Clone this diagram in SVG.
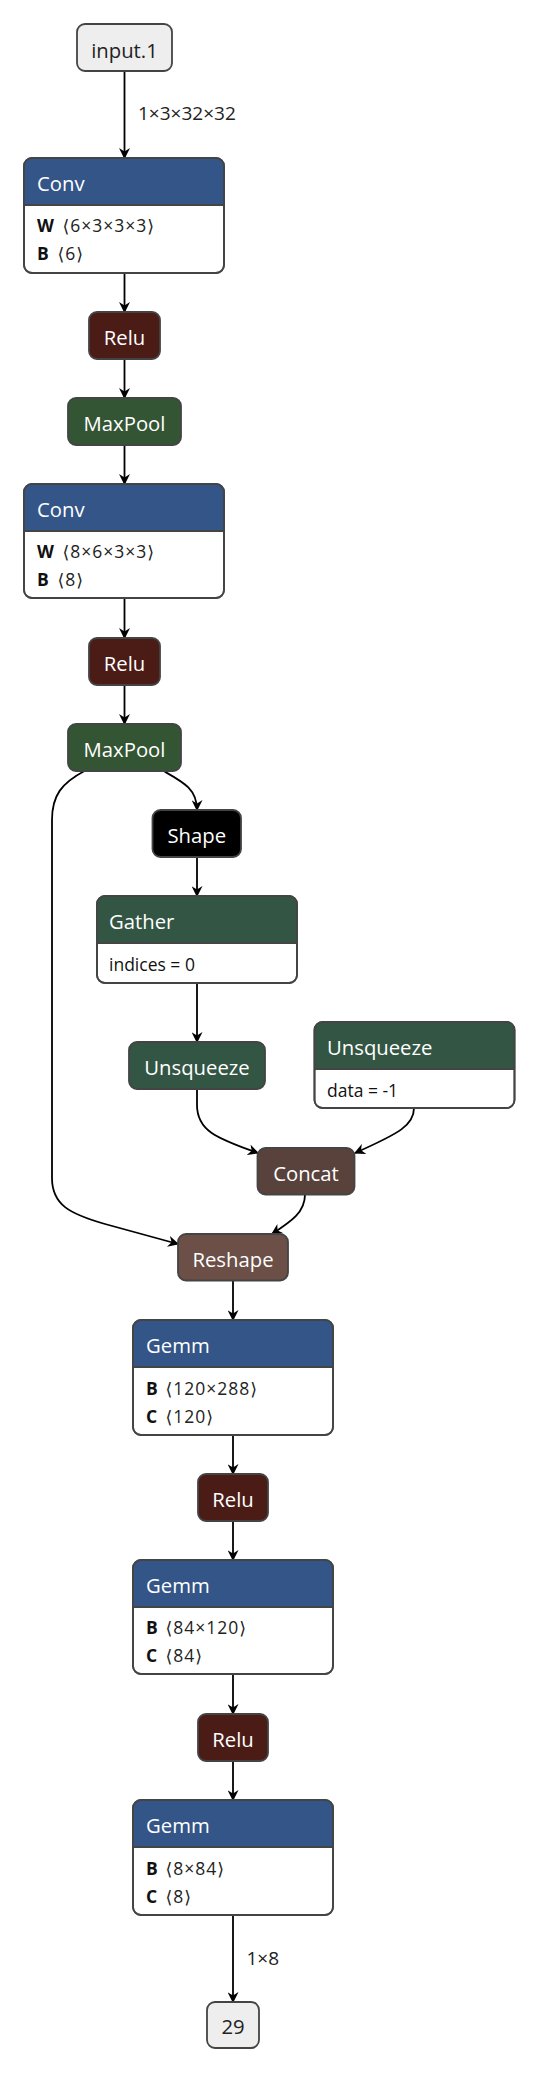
<svg xmlns="http://www.w3.org/2000/svg" width="540" height="2074" viewBox="0 0 540 2074">
<style>
  .bg { fill: #ffffff; }
  .box { fill: #ffffff; stroke: #444444; stroke-width: 1.8; }
  .outline { fill: none; stroke: #444444; stroke-width: 1.8; }
  .sep { stroke: #444444; stroke-width: 1.8; }
  .io { fill: #eeeeee; stroke: #444444; stroke-width: 1.8; }
  .layer { fill: #335588; }
  .act { fill: #4b1b16; }
  .pool { fill: #335533; }
  .transform { fill: #335544; }
  .shape { fill: #000000; }
  .tensor { fill: #59423b; }
  .reshape { fill: #6c4f47; }
  .title { font-family: "Open Sans", "Noto Sans", "DejaVu Sans", sans-serif; font-size: 20.3px; fill: #ffffff; }
  .iotext { font-family: "Open Sans", "Noto Sans", "DejaVu Sans", sans-serif; font-size: 20.3px; fill: #222222; text-anchor: middle; }
  .mid { text-anchor: middle; }
  .attr { font-family: "Open Sans", "Noto Sans", "DejaVu Sans", sans-serif; font-size: 17.5px; fill: #111111; }
  .aname { font-weight: bold; }
  .aval { fill: #222222; letter-spacing: 1px; }
  .edge { fill: none; stroke: #000000; stroke-width: 1.8; }
  .elabel { font-family: "Open Sans", "Noto Sans", "DejaVu Sans", sans-serif; font-size: 19px; fill: #222222; }
</style>
<defs>
  <marker id="arrow" viewBox="0 0 10 10" refX="9" refY="5" markerWidth="11" markerHeight="11" markerUnits="userSpaceOnUse" orient="auto">
    <path d="M0,0 L10,5 L0,10 L3,5 z" fill="#000000"/>
  </marker>
</defs>
<rect class="bg" x="0" y="0" width="540" height="2074"/>

<g id="edges">
  <path class="edge" d="M124.5,71 L124.5,158" marker-end="url(#arrow)"/>
  <path class="edge" d="M124.5,273 L124.5,312" marker-end="url(#arrow)"/>
  <path class="edge" d="M124.5,359 L124.5,398" marker-end="url(#arrow)"/>
  <path class="edge" d="M124.5,445 L124.5,484" marker-end="url(#arrow)"/>
  <path class="edge" d="M124.5,598 L124.5,638" marker-end="url(#arrow)"/>
  <path class="edge" d="M124.5,685 L124.5,724" marker-end="url(#arrow)"/>
  <path class="edge" d="M163.6,771 C183,782 197,789 197,810" marker-end="url(#arrow)"/>
  <path class="edge" d="M84.4,771 C62,783 52,795 52,820 L52,1178 C52,1205 70,1214 105,1224 L178,1244" marker-end="url(#arrow)"/>
  <path class="edge" d="M197,857 L197,896" marker-end="url(#arrow)"/>
  <path class="edge" d="M197,983 L197,1042" marker-end="url(#arrow)"/>
  <path class="edge" d="M197,1089 L197,1105 C197,1130 215,1138 258,1153" marker-end="url(#arrow)"/>
  <path class="edge" d="M414,1108 C414,1125 400,1133 355,1153" marker-end="url(#arrow)"/>
  <path class="edge" d="M305,1194.5 C305,1212 292,1221 272,1234" marker-end="url(#arrow)"/>
  <path class="edge" d="M233,1280.5 L233,1320" marker-end="url(#arrow)"/>
  <path class="edge" d="M233,1435 L233,1474" marker-end="url(#arrow)"/>
  <path class="edge" d="M233,1521 L233,1560" marker-end="url(#arrow)"/>
  <path class="edge" d="M233,1674 L233,1714" marker-end="url(#arrow)"/>
  <path class="edge" d="M233,1761 L233,1800" marker-end="url(#arrow)"/>
  <path class="edge" d="M233,1915 L233,2002" marker-end="url(#arrow)"/>
  <text class="elabel" x="138" y="120">1×3×32×32</text>
  <text class="elabel" x="246.5" y="1965">1×8</text>
</g>

<g id="input.1">
  <rect class="io" x="77" y="24" width="95" height="47" rx="8"/>
  <text class="iotext" x="124.5" y="57.5">input.1</text>
</g>

<g id="conv1">
  <rect class="box" x="24" y="158" width="200" height="115" rx="8"/>
  <path class="layer" d="M24,205 L24,166 A8,8 0 0 1 32,158 L216,158 A8,8 0 0 1 224,166 L224,205 Z"/>
  <line class="sep" x1="24" y1="205" x2="224" y2="205"/>
  <rect class="outline" x="24" y="158" width="200" height="115" rx="8"/>
  <text class="title" x="37" y="190.5">Conv</text>
  <text class="attr" y="232"><tspan class="aname" x="37">W</tspan><tspan class="aval" x="62.5">⟨6×3×3×3⟩</tspan></text>
  <text class="attr" y="260"><tspan class="aname" x="37">B</tspan><tspan class="aval" x="57.5">⟨6⟩</tspan></text>
</g>

<g id="relu1">
  <rect class="act" x="89" y="312" width="71" height="47" rx="8" stroke="#444444" stroke-width="1.8"/>
  <text class="title mid" x="124.5" y="344.5">Relu</text>
</g>

<g id="maxpool1">
  <rect class="pool" x="68" y="398" width="113" height="47" rx="8" stroke="#444444" stroke-width="1.8"/>
  <text class="title mid" x="124.5" y="430.5">MaxPool</text>
</g>

<g id="conv2">
  <rect class="box" x="24" y="484" width="200" height="114" rx="8"/>
  <path class="layer" d="M24,531 L24,492 A8,8 0 0 1 32,484 L216,484 A8,8 0 0 1 224,492 L224,531 Z"/>
  <line class="sep" x1="24" y1="531" x2="224" y2="531"/>
  <rect class="outline" x="24" y="484" width="200" height="114" rx="8"/>
  <text class="title" x="37" y="516.5">Conv</text>
  <text class="attr" y="558"><tspan class="aname" x="37">W</tspan><tspan class="aval" x="62.5">⟨8×6×3×3⟩</tspan></text>
  <text class="attr" y="586"><tspan class="aname" x="37">B</tspan><tspan class="aval" x="57.5">⟨8⟩</tspan></text>
</g>

<g id="relu2">
  <rect class="act" x="89" y="638" width="71" height="47" rx="8" stroke="#444444" stroke-width="1.8"/>
  <text class="title mid" x="124.5" y="670.5">Relu</text>
</g>

<g id="maxpool2">
  <rect class="pool" x="68" y="724" width="113" height="47" rx="8" stroke="#444444" stroke-width="1.8"/>
  <text class="title mid" x="124.5" y="756.5">MaxPool</text>
</g>

<g id="shape">
  <rect class="shape" x="152.5" y="810" width="88.5" height="47" rx="8" stroke="#444444" stroke-width="1.8"/>
  <text class="title mid" x="196.8" y="842.5">Shape</text>
</g>

<g id="gather">
  <rect class="box" x="97" y="896" width="200" height="87" rx="8"/>
  <path class="transform" d="M97,943 L97,904 A8,8 0 0 1 105,896 L289,896 A8,8 0 0 1 297,904 L297,943 Z"/>
  <line class="sep" x1="97" y1="943" x2="297" y2="943"/>
  <rect class="outline" x="97" y="896" width="200" height="87" rx="8"/>
  <text class="title" x="109" y="928.5">Gather</text>
  <text class="attr" x="109" y="970.5">indices = 0</text>
</g>

<g id="unsqueeze1">
  <rect class="transform" x="129" y="1042" width="136" height="47" rx="8" stroke="#444444" stroke-width="1.8"/>
  <text class="title mid" x="197" y="1074.5">Unsqueeze</text>
</g>

<g id="unsqueeze2">
  <rect class="box" x="314.5" y="1022" width="200" height="86" rx="8"/>
  <path class="transform" d="M314.5,1069 L314.5,1030 A8,8 0 0 1 322.5,1022 L506.5,1022 A8,8 0 0 1 514.5,1030 L514.5,1069 Z"/>
  <line class="sep" x1="314.5" y1="1069" x2="514.5" y2="1069"/>
  <rect class="outline" x="314.5" y="1022" width="200" height="86" rx="8"/>
  <text class="title" x="327" y="1054.5">Unsqueeze</text>
  <text class="attr" x="327" y="1096.5">data = -1</text>
</g>

<g id="concat">
  <rect class="tensor" x="257.5" y="1148" width="97" height="46.5" rx="8" stroke="#444444" stroke-width="1.8"/>
  <text class="title mid" x="306" y="1180.5">Concat</text>
</g>

<g id="reshape">
  <rect class="reshape" x="178" y="1234" width="110" height="46.5" rx="8" stroke="#444444" stroke-width="1.8"/>
  <text class="title mid" x="233" y="1266.5">Reshape</text>
</g>

<g id="gemm1">
  <rect class="box" x="133" y="1320" width="200" height="115" rx="8"/>
  <path class="layer" d="M133,1367 L133,1328 A8,8 0 0 1 141,1320 L325,1320 A8,8 0 0 1 333,1328 L333,1367 Z"/>
  <line class="sep" x1="133" y1="1367" x2="333" y2="1367"/>
  <rect class="outline" x="133" y="1320" width="200" height="115" rx="8"/>
  <text class="title" x="146" y="1352.5">Gemm</text>
  <text class="attr" y="1394.5"><tspan class="aname" x="146">B</tspan><tspan class="aval" x="165.5">⟨120×288⟩</tspan></text>
  <text class="attr" y="1422.5"><tspan class="aname" x="146">C</tspan><tspan class="aval" x="165.5">⟨120⟩</tspan></text>
</g>

<g id="relu3">
  <rect class="act" x="198" y="1474" width="70" height="47" rx="8" stroke="#444444" stroke-width="1.8"/>
  <text class="title mid" x="233" y="1506.5">Relu</text>
</g>

<g id="gemm2">
  <rect class="box" x="133" y="1560" width="200" height="114" rx="8"/>
  <path class="layer" d="M133,1607 L133,1568 A8,8 0 0 1 141,1560 L325,1560 A8,8 0 0 1 333,1568 L333,1607 Z"/>
  <line class="sep" x1="133" y1="1607" x2="333" y2="1607"/>
  <rect class="outline" x="133" y="1560" width="200" height="114" rx="8"/>
  <text class="title" x="146" y="1592.5">Gemm</text>
  <text class="attr" y="1634"><tspan class="aname" x="146">B</tspan><tspan class="aval" x="165.5">⟨84×120⟩</tspan></text>
  <text class="attr" y="1662"><tspan class="aname" x="146">C</tspan><tspan class="aval" x="165.5">⟨84⟩</tspan></text>
</g>

<g id="relu4">
  <rect class="act" x="198" y="1714" width="70" height="47" rx="8" stroke="#444444" stroke-width="1.8"/>
  <text class="title mid" x="233" y="1746.5">Relu</text>
</g>

<g id="gemm3">
  <rect class="box" x="133" y="1800" width="200" height="115" rx="8"/>
  <path class="layer" d="M133,1847 L133,1808 A8,8 0 0 1 141,1800 L325,1800 A8,8 0 0 1 333,1808 L333,1847 Z"/>
  <line class="sep" x1="133" y1="1847" x2="333" y2="1847"/>
  <rect class="outline" x="133" y="1800" width="200" height="115" rx="8"/>
  <text class="title" x="146" y="1832.5">Gemm</text>
  <text class="attr" y="1874.5"><tspan class="aname" x="146">B</tspan><tspan class="aval" x="165.5">⟨8×84⟩</tspan></text>
  <text class="attr" y="1902.5"><tspan class="aname" x="146">C</tspan><tspan class="aval" x="165.5">⟨8⟩</tspan></text>
</g>

<g id="output.29">
  <rect class="io" x="207" y="2002" width="52" height="46" rx="8"/>
  <text class="iotext" x="233" y="2034">29</text>
</g>
</svg>
